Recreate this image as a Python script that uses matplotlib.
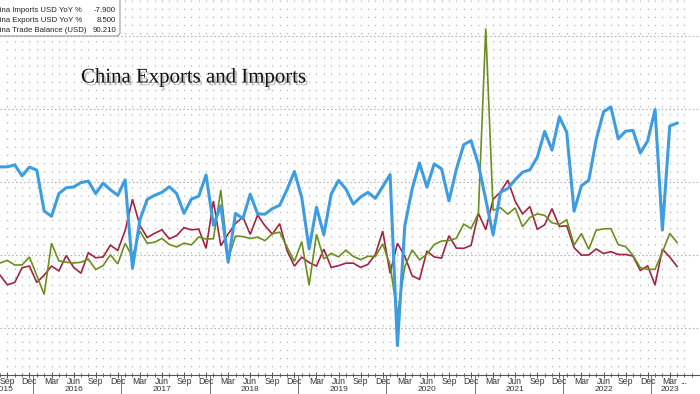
import numpy as np
import matplotlib
matplotlib.use('Agg')
import matplotlib.pyplot as plt
import matplotlib.patheffects as pe
import matplotlib.transforms as mtransforms
from matplotlib.patches import FancyBboxPatch
import pandas as pd

# ---------------- data (monthly, Aug 2015 .. Apr 2023) ----------------
months = pd.period_range('2015-08', '2023-04', freq='M')

exports_yoy = [
    -5.5, -3.7, -6.9, -6.8, -1.4,                                   # 2015 Aug-Dec
    -14.0, -27.0, 8.0, -4.0, -5.0, -5.5, -5.0, -2.8, -10.0, -7.3, 0.1, -6.1,   # 2016
    7.9, -1.3, 16.4, 8.0, 8.7, 11.3, 7.2, 5.5, 8.1, 6.9, 12.3, 10.9,           # 2017
    11.1, 44.5, -2.7, 12.9, 12.6, 11.3, 12.2, 9.8, 14.5, 15.6, 5.4, -4.4,      # 2018
    9.1, -20.7, 14.2, -2.7, 1.1, -1.3, 3.3, -1.0, -3.2, -0.9, -1.1, 7.6,       # 2019
    -6.8, -41.0, -8.0, 3.5, -3.3, 0.5, 7.2, 9.5, 9.9, 11.4, 21.1, 18.1,        # 2020
    28.5, 154.9, 30.6, 32.3, 27.9, 32.2, 19.3, 25.6, 28.1, 27.1, 22.0, 20.9,   # 2021
    24.0, 6.8, 14.7, 3.9, 16.9, 17.9, 18.0, 7.1, 5.7, -0.3, -8.7, -9.9,        # 2022
    -9.8, 2.0, 14.8, 8.5,                                                      # 2023
]

imports_yoy = [
    -13.8, -20.4, -18.8, -8.7, -7.6,
    -18.8, -13.8, -7.6, -10.9, -0.4, -8.4, -12.5, 1.5, -1.9, -1.4, 6.7, 3.1,
    16.7, 38.1, 20.3, 11.9, 14.8, 17.2, 11.0, 13.3, 18.7, 17.2, 17.7, 4.5,
    36.9, 6.3, 14.4, 21.5, 26.0, 14.1, 27.3, 20.0, 14.3, 21.4, 3.0, -7.6,
    -1.5, -5.2, -7.6, 4.0, -8.5, -7.3, -5.6, -5.6, -8.5, -6.4, 0.3, 16.3,
    -12.5, 8.0, -0.9, -14.2, -16.7, 2.7, -1.4, -2.1, 13.2, 4.7, 4.5, 6.5,
    28.5, 17.3, 38.1, 43.1, 51.1, 36.7, 28.1, 33.1, 17.6, 20.6, 31.7, 19.5,
    20.0, 5.0, -0.1, 0.0, 4.1, 1.0, 2.3, 0.3, 0.3, -0.7, -10.6, -7.5,
    -20.5, 4.0, -1.4, -7.9,
]

trade_balance = [
    60.2, 60.3, 61.6, 54.1, 60.1,
    58.0, 30.0, 26.5, 42.0, 46.0, 46.5, 49.5, 50.5, 42.0, 49.1, 44.6, 40.8,
    51.4, -9.2, 23.9, 38.0, 40.8, 42.8, 46.7, 42.0, 28.5, 38.2, 40.2, 54.7,
    20.3, 33.7, -5.0, 28.4, 24.9, 41.6, 28.1, 27.9, 31.7, 34.0, 44.7, 57.1,
    39.2, 4.1, 32.6, 13.8, 41.7, 51.0, 45.1, 34.8, 39.7, 42.8, 38.7, 46.8,
    55.0, -62.0, 19.9, 45.3, 62.9, 46.4, 62.3, 58.9, 37.0, 58.4, 75.4, 78.2,
    62.0, 37.9, 13.8, 42.9, 45.5, 51.5, 56.6, 58.3, 66.8, 84.5, 71.7, 94.5,
    84.0, 30.0, 47.4, 51.1, 78.8, 97.9, 101.3, 79.4, 84.7, 85.2, 69.8, 78.0,
    99.5, 17.0, 88.2, 90.2,
]

legend_labels = ['China Imports USD YoY %', 'China Exports USD YoY %',
                 'China Trade Balance (USD)']
legend_values = ['-7.900', '8.500', '90.210']
title_text = 'China Exports and Imports'
month_abbr = {3: 'Mar', 6: 'Jun', 9: 'Sep', 12: 'Dec'}

# ---------------- styling ----------------
C_BLUE = '#3d9de3'
C_RED = '#a32340'
C_GREEN = '#6b8f1e'
GRID = '#b4b4b4'
TXT = '#333333'
TICKFONT = 'Liberation Sans'

W, H = 700, 394
fig = plt.figure(figsize=(W / 100, H / 100), dpi=100)
ax = fig.add_axes([0, 1 - 375 / H, 1, 375 / H])

x = np.arange(len(months))

ax.set_xlim(0.325, 95.11)
ax.set_ylim(-82.1, 174.4)

# grid
for v in (-50, 0, 50, 100, 150):
    ax.axhline(v, color=GRID, lw=0.8, ls=(0, (1.5, 2.0)), zorder=1)
for i in range(1, len(months) + 1):
    ax.axvline(i, color=GRID, lw=0.9, ls=(0, (1.0, 5.5)), zorder=1)

# series
ax.plot(x, imports_yoy, color=C_RED, lw=1.2, zorder=3, solid_joinstyle='miter')
ax.plot(x, exports_yoy, color=C_GREEN, lw=1.2, zorder=3, solid_joinstyle='miter')
ax.plot(x, trade_balance, color=C_BLUE, lw=2.2, zorder=4, solid_joinstyle='round')

# axes cosmetics
for s in ('top', 'left', 'right'):
    ax.spines[s].set_visible(False)
ax.spines['bottom'].set_color('#555555')
ax.spines['bottom'].set_linewidth(0.8)
ax.set_yticks([])

major_idx = [i for i, p in enumerate(months) if p.month in month_abbr]
ax.set_xticks(major_idx)
ax.set_xticklabels([])
ax.set_xticks(list(range(0, len(months) + 2)), minor=True)
ax.tick_params(axis='x', which='major', direction='inout', length=4, width=0.7, color='#555555')
ax.tick_params(axis='x', which='minor', direction='inout', length=2.5, width=0.6, color='#555555')

btrans = mtransforms.blended_transform_factory(ax.transData, ax.transAxes)
y_month = (375 - 381.5) / 375
y_year = (375 - 389.5) / 375
for i in major_idx:
    ax.text(i, y_month, month_abbr[months[i].month], transform=btrans, ha='center',
            va='center', fontsize=6.2, color=TXT, family=TICKFONT, clip_on=False)
ax.text(len(months) - 0.1, y_month, '...', transform=btrans, ha='center', va='center',
        fontsize=6.2, color=TXT, family=TICKFONT, clip_on=False)

years = sorted(set(p.year for p in months))
for yr in years:
    idx = [i for i, p in enumerate(months) if p.year == yr]
    if yr == years[0]:
        xc = 0.5
    elif yr == years[-1]:
        xc = idx[-2]
    else:
        xc = idx[0] + 5
    ax.text(xc, y_year, str(yr), transform=btrans, ha='center', va='center',
            fontsize=6.0, color=TXT, family=TICKFONT, clip_on=False)
    if yr != years[0]:
        sep = idx[0] - 0.5
        ax.plot([sep, sep], [0, -0.06], transform=btrans, color='#777777', lw=0.7,
                clip_on=False)

# legend box (top-left, partly cut off)
box = FancyBboxPatch((-30 / W, 1 - 36 / H), 150 / W, 50 / H,
                     boxstyle='round,pad=0,rounding_size=0.008',
                     transform=fig.transFigure, facecolor='white',
                     edgecolor='#9a9a9a', lw=0.8, zorder=10)
fig.patches.append(box)
for k, (lab, val) in enumerate(zip(legend_labels, legend_values)):
    yy = 1 - (11 + 10 * k) / H
    fig.text(-10 / W, yy, lab, ha='left', va='center', fontsize=5.6,
             family=TICKFONT, color='#222222', zorder=11)
    fig.text(116 / W, yy, val, ha='right', va='center', fontsize=5.6,
             family=TICKFONT, color='#222222', zorder=11)

# title with shadow
fig.text(194 / W, 1 - 78 / H, title_text, ha='center', va='center', fontsize=15.0,
         family='Liberation Serif', color='#111111', zorder=12,
         path_effects=[pe.withSimplePatchShadow(offset=(1.5, -2.0), shadow_rgbFace='#888888',
                                                alpha=0.55)])

fig.savefig('out.png', dpi=100)
